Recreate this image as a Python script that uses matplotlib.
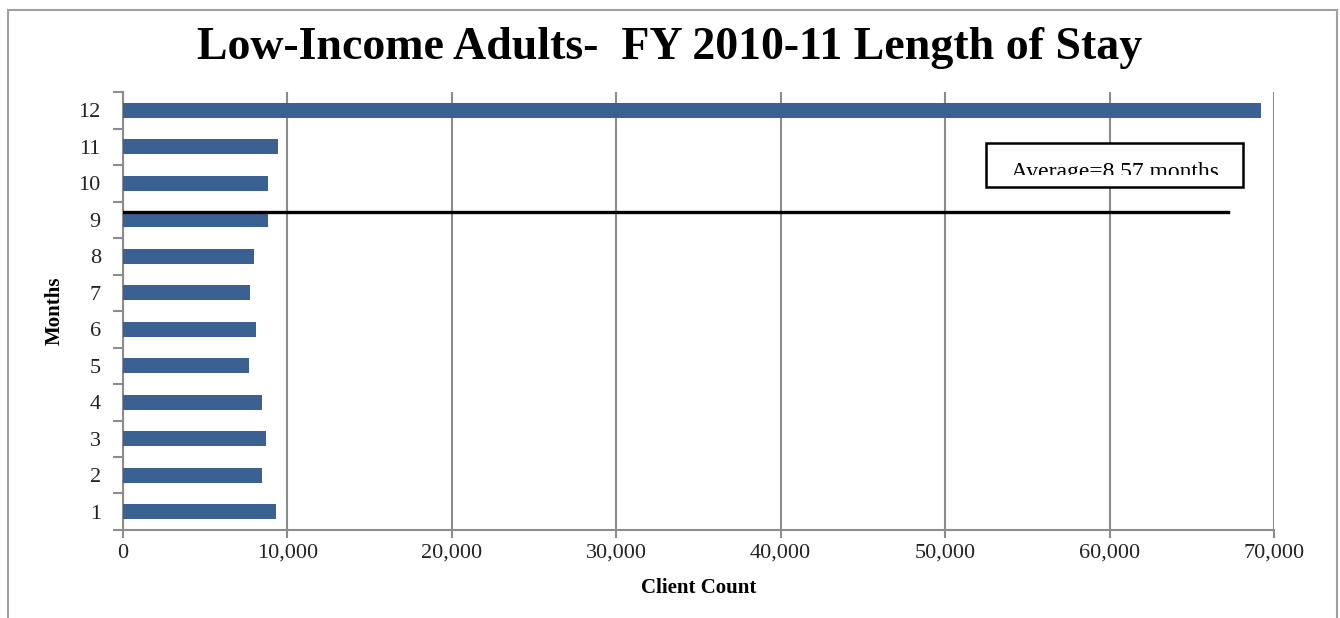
import matplotlib
matplotlib.use('Agg')
import matplotlib.pyplot as plt
from matplotlib.patches import Rectangle
from matplotlib.ticker import FuncFormatter, FixedLocator

# data
months = [1, 2, 3, 4, 5, 6, 7, 8, 9, 10, 11, 12]
client_count = [9300, 8460, 8690, 8460, 7640, 8100, 7730, 7980, 8790, 8790, 9400, 69200]
average_label = 'Average=8.57 months'
avg_line_y = 9.2
avg_line_end = 67200

plt.rcParams['font.family'] = ['Liberation Serif', 'DejaVu Serif']

fig = plt.figure(figsize=(13.4, 6.18), dpi=100)
ax = fig.add_axes([0.0918, 0.1424, 0.8589, 0.7087])

bar_color = '#3a6191'
grid_color = '#8c8c8c'

ax.barh(months, client_count, height=0.41, color=bar_color, zorder=3)
ax.set_xlim(0, 70000)
ax.set_ylim(0.5, 12.5)

ax.set_xticks(range(0, 70001, 10000))
ax.xaxis.set_major_formatter(FuncFormatter(lambda v, p: f'{int(v):,}'))
ax.grid(axis='x', color=grid_color, linewidth=1.5, zorder=0)

ax.set_yticks(months)
ax.yaxis.set_minor_locator(FixedLocator([m + 0.5 for m in range(0, 13)]))
ax.tick_params(axis='y', which='major', length=0, pad=16, labelsize=16, labelcolor='#222222')
ax.tick_params(axis='y', which='minor', length=7, width=1.5, color=grid_color)
ax.tick_params(axis='x', which='major', length=6, width=1.5, color=grid_color,
               labelsize=16, labelcolor='#222222', pad=4)

for s in ['top', 'right']:
    ax.spines[s].set_visible(False)
for s in ['left', 'bottom']:
    ax.spines[s].set_color(grid_color)
    ax.spines[s].set_linewidth(1.5)

ax.set_xlabel('Client Count', fontsize=15, fontweight='bold', labelpad=11)
ax.set_ylabel('Months', fontsize=15, fontweight='bold', labelpad=10)

# average line
ax.plot([0, avg_line_end], [avg_line_y, avg_line_y], color='black', linewidth=2.4, zorder=4)

# average annotation box; the text is cut off at the bottom like the original
ax.text(0.8615, 0.8037, average_label, transform=ax.transAxes, ha='center',
        va='baseline', fontsize=17, zorder=6)
ax.add_patch(Rectangle((0.75, 0.7831), 0.223, 0.1005, transform=ax.transAxes,
                       facecolor='white', edgecolor='none', zorder=5))
ax.add_patch(Rectangle((0.752, 0.7845), 0.219, 0.0265, transform=ax.transAxes,
                       facecolor='white', edgecolor='none', zorder=7))
ax.add_patch(Rectangle((0.75, 0.7831), 0.223, 0.1005, transform=ax.transAxes,
                       facecolor='none', edgecolor='black', linewidth=1.8, zorder=8))

fig.text(0.5, 0.905, 'Low-Income Adults-  FY 2010-11 Length of Stay', ha='center',
         va='baseline', fontsize=33, fontweight='bold')

# outer chart frame
frame = Rectangle((8 / 1340, -0.05), 1329 / 1340, 1.05 - 10 / 618,
                  transform=fig.transFigure, facecolor='none', edgecolor='#a0a0a0',
                  linewidth=1.5)
fig.patches.append(frame)

fig.savefig('out.png', dpi=100)
